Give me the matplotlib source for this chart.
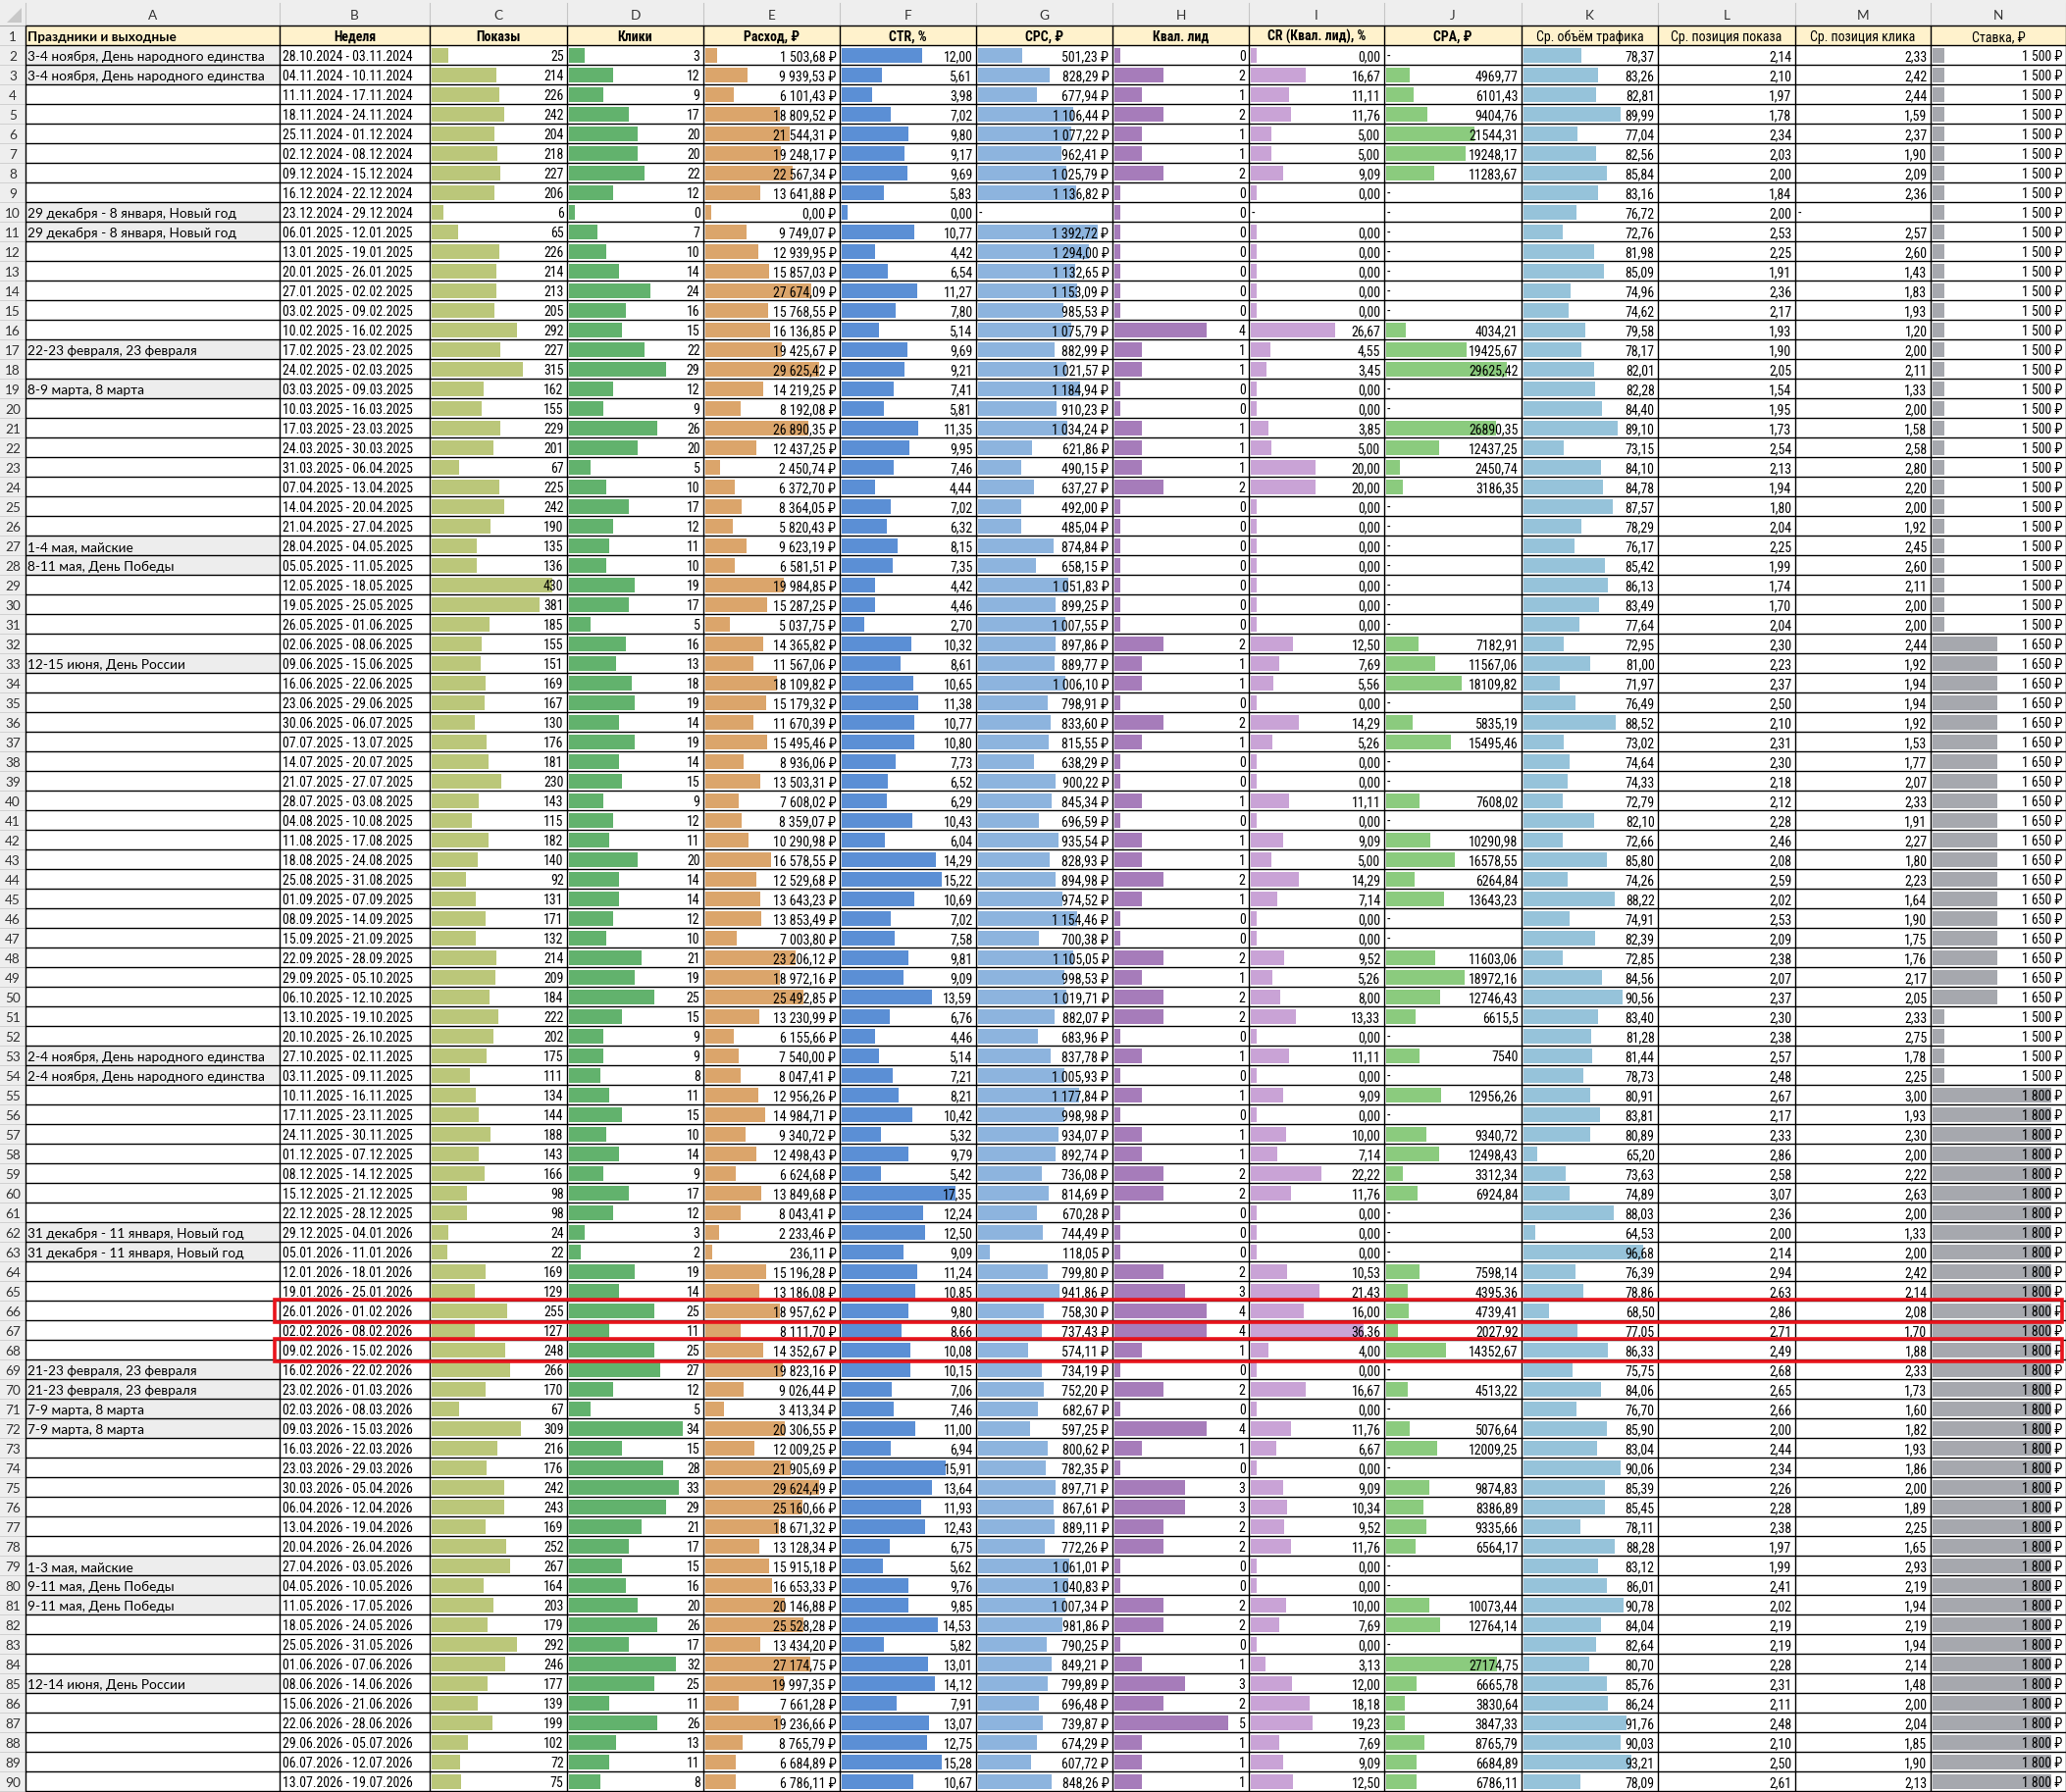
import matplotlib
matplotlib.use("Agg")
import matplotlib.pyplot as plt
from matplotlib import font_manager
from matplotlib.patches import Rectangle, Polygon

# ---- данные таблицы (строки 2..90) ----
holidays = [
    "3-4 ноября, День народного единства", "3-4 ноября, День народного единства", "", "", "", "", "", "",
    "29 декабря - 8 января, Новый год", "29 декабря - 8 января, Новый год",
    "", "", "", "", "", "22-23 февраля, 23 февраля", "", "8-9 марта, 8 марта", "", "", "", "", "", "", "",
    "1-4 мая, майские", "8-11 мая, День Победы", "", "", "", "", "12-15 июня, День России",
    "", "", "", "", "", "", "", "", "", "", "", "", "", "", "", "", "", "", "",
    "2-4 ноября, День народного единства", "2-4 ноября, День народного единства",
    "", "", "", "", "", "", "",
    "31 декабря - 11 января, Новый год", "31 декабря - 11 января, Новый год",
    "", "", "", "", "", "21-23 февраля, 23 февраля", "21-23 февраля, 23 февраля",
    "7-9 марта, 8 марта", "7-9 марта, 8 марта", "", "", "", "", "", "",
    "1-3 мая, майские", "9-11 мая, День Победы", "9-11 мая, День Победы", "", "", "",
    "12-14 июня, День России", "", "", "", "", "",
]

weeks = [
    "28.10.2024 - 03.11.2024", "04.11.2024 - 10.11.2024", "11.11.2024 - 17.11.2024", "18.11.2024 - 24.11.2024",
    "25.11.2024 - 01.12.2024", "02.12.2024 - 08.12.2024", "09.12.2024 - 15.12.2024", "16.12.2024 - 22.12.2024",
    "23.12.2024 - 29.12.2024", "06.01.2025 - 12.01.2025", "13.01.2025 - 19.01.2025", "20.01.2025 - 26.01.2025",
    "27.01.2025 - 02.02.2025", "03.02.2025 - 09.02.2025", "10.02.2025 - 16.02.2025", "17.02.2025 - 23.02.2025",
    "24.02.2025 - 02.03.2025", "03.03.2025 - 09.03.2025", "10.03.2025 - 16.03.2025", "17.03.2025 - 23.03.2025",
    "24.03.2025 - 30.03.2025", "31.03.2025 - 06.04.2025", "07.04.2025 - 13.04.2025", "14.04.2025 - 20.04.2025",
    "21.04.2025 - 27.04.2025", "28.04.2025 - 04.05.2025", "05.05.2025 - 11.05.2025", "12.05.2025 - 18.05.2025",
    "19.05.2025 - 25.05.2025", "26.05.2025 - 01.06.2025", "02.06.2025 - 08.06.2025", "09.06.2025 - 15.06.2025",
    "16.06.2025 - 22.06.2025", "23.06.2025 - 29.06.2025", "30.06.2025 - 06.07.2025", "07.07.2025 - 13.07.2025",
    "14.07.2025 - 20.07.2025", "21.07.2025 - 27.07.2025", "28.07.2025 - 03.08.2025", "04.08.2025 - 10.08.2025",
    "11.08.2025 - 17.08.2025", "18.08.2025 - 24.08.2025", "25.08.2025 - 31.08.2025", "01.09.2025 - 07.09.2025",
    "08.09.2025 - 14.09.2025", "15.09.2025 - 21.09.2025", "22.09.2025 - 28.09.2025", "29.09.2025 - 05.10.2025",
    "06.10.2025 - 12.10.2025", "13.10.2025 - 19.10.2025", "20.10.2025 - 26.10.2025", "27.10.2025 - 02.11.2025",
    "03.11.2025 - 09.11.2025", "10.11.2025 - 16.11.2025", "17.11.2025 - 23.11.2025", "24.11.2025 - 30.11.2025",
    "01.12.2025 - 07.12.2025", "08.12.2025 - 14.12.2025", "15.12.2025 - 21.12.2025", "22.12.2025 - 28.12.2025",
    "29.12.2025 - 04.01.2026", "05.01.2026 - 11.01.2026", "12.01.2026 - 18.01.2026", "19.01.2026 - 25.01.2026",
    "26.01.2026 - 01.02.2026", "02.02.2026 - 08.02.2026", "09.02.2026 - 15.02.2026", "16.02.2026 - 22.02.2026",
    "23.02.2026 - 01.03.2026", "02.03.2026 - 08.03.2026", "09.03.2026 - 15.03.2026", "16.03.2026 - 22.03.2026",
    "23.03.2026 - 29.03.2026", "30.03.2026 - 05.04.2026", "06.04.2026 - 12.04.2026", "13.04.2026 - 19.04.2026",
    "20.04.2026 - 26.04.2026", "27.04.2026 - 03.05.2026", "04.05.2026 - 10.05.2026", "11.05.2026 - 17.05.2026",
    "18.05.2026 - 24.05.2026", "25.05.2026 - 31.05.2026", "01.06.2026 - 07.06.2026", "08.06.2026 - 14.06.2026",
    "15.06.2026 - 21.06.2026", "22.06.2026 - 28.06.2026", "29.06.2026 - 05.07.2026", "06.07.2026 - 12.07.2026",
    "13.07.2026 - 19.07.2026",
]

shows = [25, 214, 226, 242, 204, 218, 227, 206, 6, 65,
         226, 214, 213, 205, 292, 227, 315, 162, 155, 229,
         201, 67, 225, 242, 190, 135, 136, 430, 381, 185,
         155, 151, 169, 167, 130, 176, 181, 230, 143, 115,
         182, 140, 92, 131, 171, 132, 214, 209, 184, 222,
         202, 175, 111, 134, 144, 188, 143, 166, 98, 98,
         24, 22, 169, 129, 255, 127, 248, 266, 170, 67,
         309, 216, 176, 242, 243, 169, 252, 267, 164, 203,
         179, 292, 246, 177, 139, 199, 102, 72, 75]

clicks = [3, 12, 9, 17, 20, 20, 22, 12, 0, 7,
          10, 14, 24, 16, 15, 22, 29, 12, 9, 26,
          20, 5, 10, 17, 12, 11, 10, 19, 17, 5,
          16, 13, 18, 19, 14, 19, 14, 15, 9, 12,
          11, 20, 14, 14, 12, 10, 21, 19, 25, 15,
          9, 9, 8, 11, 15, 10, 14, 9, 17, 12,
          3, 2, 19, 14, 25, 11, 25, 27, 12, 5,
          34, 15, 28, 33, 29, 21, 17, 15, 16, 20,
          26, 17, 32, 25, 11, 26, 13, 11, 8]

spend = [1503.68, 9939.53, 6101.43, 18809.52, 21544.31, 19248.17, 22567.34, 13641.88, 0.00, 9749.07,
         12939.95, 15857.03, 27674.09, 15768.55, 16136.85, 19425.67, 29625.42, 14219.25, 8192.08, 26890.35,
         12437.25, 2450.74, 6372.70, 8364.05, 5820.43, 9623.19, 6581.51, 19984.85, 15287.25, 5037.75,
         14365.82, 11567.06, 18109.82, 15179.32, 11670.39, 15495.46, 8936.06, 13503.31, 7608.02, 8359.07,
         10290.98, 16578.55, 12529.68, 13643.23, 13853.49, 7003.80, 23206.12, 18972.16, 25492.85, 13230.99,
         6155.66, 7540.00, 8047.41, 12956.26, 14984.71, 9340.72, 12498.43, 6624.68, 13849.68, 8043.41,
         2233.46, 236.11, 15196.28, 13186.08, 18957.62, 8111.70, 14352.67, 19823.16, 9026.44, 3413.34,
         20306.55, 12009.25, 21905.69, 29624.49, 25160.66, 18671.32, 13128.34, 15915.18, 16653.33, 20146.88,
         25528.28, 13434.20, 27174.75, 19997.35, 7661.28, 19236.66, 8765.79, 6684.89, 6786.11]

ctr = [12.00, 5.61, 3.98, 7.02, 9.80, 9.17, 9.69, 5.83, 0.00, 10.77,
       4.42, 6.54, 11.27, 7.80, 5.14, 9.69, 9.21, 7.41, 5.81, 11.35,
       9.95, 7.46, 4.44, 7.02, 6.32, 8.15, 7.35, 4.42, 4.46, 2.70,
       10.32, 8.61, 10.65, 11.38, 10.77, 10.80, 7.73, 6.52, 6.29, 10.43,
       6.04, 14.29, 15.22, 10.69, 7.02, 7.58, 9.81, 9.09, 13.59, 6.76,
       4.46, 5.14, 7.21, 8.21, 10.42, 5.32, 9.79, 5.42, 17.35, 12.24,
       12.50, 9.09, 11.24, 10.85, 9.80, 8.66, 10.08, 10.15, 7.06, 7.46,
       11.00, 6.94, 15.91, 13.64, 11.93, 12.43, 6.75, 5.62, 9.76, 9.85,
       14.53, 5.82, 13.01, 14.12, 7.91, 13.07, 12.75, 15.28, 10.67]

cpc = [501.23, 828.29, 677.94, 1106.44, 1077.22, 962.41, 1025.79, 1136.82, None, 1392.72,
       1294.00, 1132.65, 1153.09, 985.53, 1075.79, 882.99, 1021.57, 1184.94, 910.23, 1034.24,
       621.86, 490.15, 637.27, 492.00, 485.04, 874.84, 658.15, 1051.83, 899.25, 1007.55,
       897.86, 889.77, 1006.10, 798.91, 833.60, 815.55, 638.29, 900.22, 845.34, 696.59,
       935.54, 828.93, 894.98, 974.52, 1154.46, 700.38, 1105.05, 998.53, 1019.71, 882.07,
       683.96, 837.78, 1005.93, 1177.84, 998.98, 934.07, 892.74, 736.08, 814.69, 670.28,
       744.49, 118.05, 799.80, 941.86, 758.30, 737.43, 574.11, 734.19, 752.20, 682.67,
       597.25, 800.62, 782.35, 897.71, 867.61, 889.11, 772.26, 1061.01, 1040.83, 1007.34,
       981.86, 790.25, 849.21, 799.89, 696.48, 739.87, 674.29, 607.72, 848.26]

leads = [0, 2, 1, 2, 1, 1, 2, 0, 0, 0,
         0, 0, 0, 0, 4, 1, 1, 0, 0, 1,
         1, 1, 2, 0, 0, 0, 0, 0, 0, 0,
         2, 1, 1, 0, 2, 1, 0, 0, 1, 0,
         1, 1, 2, 1, 0, 0, 2, 1, 2, 2,
         0, 1, 0, 1, 0, 1, 1, 2, 2, 0,
         0, 0, 2, 3, 4, 4, 1, 0, 2, 0,
         4, 1, 0, 3, 3, 2, 2, 0, 0, 2,
         2, 0, 1, 3, 2, 5, 1, 1, 1]

cr = [0.00, 16.67, 11.11, 11.76, 5.00, 5.00, 9.09, 0.00, None, 0.00,
      0.00, 0.00, 0.00, 0.00, 26.67, 4.55, 3.45, 0.00, 0.00, 3.85,
      5.00, 20.00, 20.00, 0.00, 0.00, 0.00, 0.00, 0.00, 0.00, 0.00,
      12.50, 7.69, 5.56, 0.00, 14.29, 5.26, 0.00, 0.00, 11.11, 0.00,
      9.09, 5.00, 14.29, 7.14, 0.00, 0.00, 9.52, 5.26, 8.00, 13.33,
      0.00, 11.11, 0.00, 9.09, 0.00, 10.00, 7.14, 22.22, 11.76, 0.00,
      0.00, 0.00, 10.53, 21.43, 16.00, 36.36, 4.00, 0.00, 16.67, 0.00,
      11.76, 6.67, 0.00, 9.09, 10.34, 9.52, 11.76, 0.00, 0.00, 10.00,
      7.69, 0.00, 3.13, 12.00, 18.18, 19.23, 7.69, 9.09, 12.50]

cpa = [None, 4969.77, 6101.43, 9404.76, 21544.31, 19248.17, 11283.67, None, None, None,
       None, None, None, None, 4034.21, 19425.67, 29625.42, None, None, 26890.35,
       12437.25, 2450.74, 3186.35, None, None, None, None, None, None, None,
       7182.91, 11567.06, 18109.82, None, 5835.19, 15495.46, None, None, 7608.02, None,
       10290.98, 16578.55, 6264.84, 13643.23, None, None, 11603.06, 18972.16, 12746.43, 6615.5,
       None, 7540, None, 12956.26, None, 9340.72, 12498.43, 3312.34, 6924.84, None,
       None, None, 7598.14, 4395.36, 4739.41, 2027.92, 14352.67, None, 4513.22, None,
       5076.64, 12009.25, None, 9874.83, 8386.89, 9335.66, 6564.17, None, None, 10073.44,
       12764.14, None, 27174.75, 6665.78, 3830.64, 3847.33, 8765.79, 6684.89, 6786.11]

traffic = [78.37, 83.26, 82.81, 89.99, 77.04, 82.56, 85.84, 83.16, 76.72, 72.76,
           81.98, 85.09, 74.96, 74.62, 79.58, 78.17, 82.01, 82.28, 84.40, 89.10,
           73.15, 84.10, 84.78, 87.57, 78.29, 76.17, 85.42, 86.13, 83.49, 77.64,
           72.95, 81.00, 71.97, 76.49, 88.52, 73.02, 74.64, 74.33, 72.79, 82.10,
           72.66, 85.80, 74.26, 88.22, 74.91, 82.39, 72.85, 84.56, 90.56, 83.40,
           81.28, 81.44, 78.73, 80.91, 83.81, 80.89, 65.20, 73.63, 74.89, 88.03,
           64.53, 96.68, 76.39, 78.86, 68.50, 77.05, 86.33, 75.75, 84.06, 76.70,
           85.90, 83.04, 90.06, 85.39, 85.45, 78.11, 88.28, 83.12, 86.01, 90.78,
           84.04, 82.64, 80.70, 85.76, 86.24, 91.76, 90.03, 93.21, 78.09]

pos_show = [2.14, 2.10, 1.97, 1.78, 2.34, 2.03, 2.00, 1.84, 2.00, 2.53,
            2.25, 1.91, 2.36, 2.17, 1.93, 1.90, 2.05, 1.54, 1.95, 1.73,
            2.54, 2.13, 1.94, 1.80, 2.04, 2.25, 1.99, 1.74, 1.70, 2.04,
            2.30, 2.23, 2.37, 2.50, 2.10, 2.31, 2.30, 2.18, 2.12, 2.28,
            2.46, 2.08, 2.59, 2.02, 2.53, 2.09, 2.38, 2.07, 2.37, 2.30,
            2.38, 2.57, 2.48, 2.67, 2.17, 2.33, 2.86, 2.58, 3.07, 2.36,
            2.00, 2.14, 2.94, 2.63, 2.86, 2.71, 2.49, 2.68, 2.65, 2.66,
            2.00, 2.44, 2.34, 2.26, 2.28, 2.38, 1.97, 1.99, 2.41, 2.02,
            2.19, 2.19, 2.28, 2.31, 2.11, 2.48, 2.10, 2.50, 2.61]

pos_click = [2.33, 2.42, 2.44, 1.59, 2.37, 1.90, 2.09, 2.36, None, 2.57,
             2.60, 1.43, 1.83, 1.93, 1.20, 2.00, 2.11, 1.33, 2.00, 1.58,
             2.58, 2.80, 2.20, 2.00, 1.92, 2.45, 2.60, 2.11, 2.00, 2.00,
             2.44, 1.92, 1.94, 1.94, 1.92, 1.53, 1.77, 2.07, 2.33, 1.91,
             2.27, 1.80, 2.23, 1.64, 1.90, 1.75, 1.76, 2.17, 2.05, 2.33,
             2.75, 1.78, 2.25, 3.00, 1.93, 2.30, 2.00, 2.22, 2.63, 2.00,
             1.33, 2.00, 2.42, 2.14, 2.08, 1.70, 1.88, 2.33, 1.73, 1.60,
             1.82, 1.93, 1.86, 2.00, 1.89, 2.25, 1.65, 2.93, 2.19, 1.94,
             2.19, 1.94, 2.14, 1.48, 2.00, 2.04, 1.85, 1.90, 2.13]

bid = [1500] * 30 + [1650] * 19 + [1500] * 4 + [1800] * 36

headers = ["Праздники и выходные", "Неделя", "Показы", "Клики", "Расход, ₽", "CTR, %", "CPC, ₽",
           "Квал. лид", "CR (Квал. лид), %", "CPA, ₽", "Ср. объём трафика", "Ср. позиция показа",
           "Ср. позиция клика", "Ставка, ₽"]
letters = list("ABCDEFGHIJKLMN")
highlight_rows = [66, 68]

# ---- шрифты: ищем узкий шрифт, как Arial Narrow в Excel ----
names = {f.name for f in font_manager.fontManager.ttflist}
narrow, stretch = None, "normal"
for p in ["Liberation Sans Narrow", "Arial Narrow", "Roboto Condensed", "Open Sans Condensed",
          "Noto Sans Condensed", "DejaVu Sans Condensed"]:
    if p in names:
        narrow = p
        break
if narrow is None:
    for f in font_manager.fontManager.ttflist:
        st = f.stretch
        cond = (isinstance(st, str) and "condensed" in st) or (isinstance(st, int) and st < 500)
        if cond and any(k in f.name for k in ("Sans", "Roboto", "Lato", "Inter")):
            narrow, stretch = f.name, "condensed"
            break
if narrow is None:
    narrow, nsize = "Liberation Sans", 8.7
else:
    nsize = 10
plain = "Lato" if "Lato" in names else "DejaVu Sans"
NUM = dict(family=[narrow, "DejaVu Sans"], fontstretch=stretch, fontsize=nsize)
TXT = dict(family=[plain, "DejaVu Sans"], fontsize=9.8)

# ---- геометрия листа (пиксели) ----
W, H = 2106, 1827
edges = [26, 285, 438, 578, 717, 856, 995, 1134, 1273, 1411, 1551, 1690, 1830, 1968, 2106]
top0 = 26
rh = 20
n = len(weeks)

def row_top(r):
    return top0 + (r - 1) * rh

fig = plt.figure(figsize=(W / 100, H / 100), dpi=100)
ax = fig.add_axes([0, 0, 1, 1])
ax.set_xlim(0, W)
ax.set_ylim(H, 0)
ax.axis("off")

# служебные заголовки Excel
ax.add_patch(Rectangle((0, 0), W, top0, fc="#EEEEEE", ec="none", zorder=1))
ax.add_patch(Rectangle((0, top0), edges[0], H - top0, fc="#EEEEEE", ec="none", zorder=1))
ax.add_patch(Polygon([(22, 8), (22, 23), (7, 23)], closed=True, fc="#C8C8C8", ec="none", zorder=2))
for x in edges:
    ax.plot([x, x], [3, top0], color="#C6C6C6", lw=0.8, zorder=2)
ax.plot([0, W], [top0, top0], color="#ABABAB", lw=0.8, zorder=2)
for i, let in enumerate(letters):
    ax.text((edges[i] + edges[i + 1]) / 2, 16, let, ha="center", va="center",
            color="#333333", zorder=4, **TXT)
for r in range(1, n + 2):
    y0 = row_top(r)
    ax.plot([0, edges[0]], [y0 + rh, y0 + rh], color="#D0D0D0", lw=0.7, zorder=2)
    ax.text(edges[0] / 2, y0 + rh - 4, str(r), ha="center", va="baseline",
            color="#333333", zorder=4, **TXT)

# строка заголовков и серые ячейки праздников
ax.add_patch(Rectangle((edges[0], row_top(1)), W - edges[0], rh, fc="#FFF2CC", ec="none", zorder=1))
for i, h in enumerate(holidays):
    if h:
        ax.add_patch(Rectangle((edges[0], row_top(i + 2)), edges[1] - edges[0], rh,
                               fc="#EDEDED", ec="none", zorder=1))

# гистограммы в ячейках
centers = [row_top(i + 2) + rh / 2 + 0.3 for i in range(n)]
bar_cols = [(2, shows, "#BBC77A"), (3, clicks, "#62B26D"), (4, spend, "#DBA56B"),
            (5, ctr, "#5B8FD5"), (6, cpc, "#8DB4DE"), (7, leads, "#A67CBA"),
            (8, cr, "#C9A3D6"), (9, cpa, "#8BCB7E"), (10, traffic, "#96C3DA"),
            (13, bid, "#A6A8AE")]
for c, vals, color in bar_cols:
    good = [v for v in vals if v is not None]
    lo, hi = min(good), max(good)
    a, b = (0.047, 0.835) if lo == 0 else (0.09, 0.88)
    cw = edges[c + 1] - edges[c]
    ys, ws = [], []
    for y, v in zip(centers, vals):
        if v is None:
            continue
        ys.append(y)
        ws.append(cw * (a + (b - a) * (v - lo) / (hi - lo)))
    ax.barh(ys, ws, height=15.5, left=edges[c] + 1.5, color=color, zorder=2)

# сетка
y_lines = [row_top(r) for r in range(1, n + 3)]
ax.hlines(y_lines, edges[0], W, color="black", lw=1.0, zorder=3)
ax.vlines(edges, top0, H, color="black", lw=1.0, zorder=3)

# тексты
def fmt_money(v):
    return f"{v:,.2f}".replace(",", " ").replace(".", ",") + " ₽"

def fmt2(v):
    return f"{v:.2f}".replace(".", ",")

def fmt_cpa(v):
    return f"{v:.2f}".rstrip("0").rstrip(".").replace(".", ",")

def cell_text(c, r, s, align="right", **kw):
    y = row_top(r) + rh - 4
    if align == "right":
        ax.text(edges[c + 1] - 3.5, y, s, ha="right", va="baseline", zorder=4, **kw)
    else:
        ax.text(edges[c] + 2.5, y, s, ha="left", va="baseline", zorder=4, **kw)

for c, h in enumerate(headers):
    if c == 0:
        cell_text(0, 1, h, align="left", weight="bold", **TXT)
    else:
        ax.text((edges[c] + edges[c + 1]) / 2, row_top(1) + rh - 4, h, ha="center", va="baseline",
                weight="bold" if c < 10 else "normal", zorder=4, **NUM)

columns = [
    (2, shows, str), (3, clicks, str), (4, spend, fmt_money), (5, ctr, fmt2),
    (6, cpc, fmt_money), (7, leads, str), (8, cr, fmt2), (9, cpa, fmt_cpa),
    (10, traffic, fmt2), (11, pos_show, fmt2), (12, pos_click, fmt2),
    (13, bid, lambda v: f"{v:,}".replace(",", " ") + " ₽"),
]
for i in range(n):
    r = i + 2
    if holidays[i]:
        cell_text(0, r, holidays[i], align="left", **TXT)
    cell_text(1, r, weeks[i], align="left", **NUM)
    for c, vals, f in columns:
        v = vals[i]
        if v is None:
            cell_text(c, r, "-", align="left", **NUM)
        else:
            cell_text(c, r, f(v), **NUM)

# красные рамки
for r in highlight_rows:
    y0 = row_top(r)
    ax.add_patch(Rectangle((edges[1] - 5.5, y0 - 1.5), W - 4 - (edges[1] - 5.5), rh + 3.5,
                           fill=False, ec="#E8141C", lw=2.6, zorder=5))

fig.savefig("out.png", dpi=100, facecolor="white")
